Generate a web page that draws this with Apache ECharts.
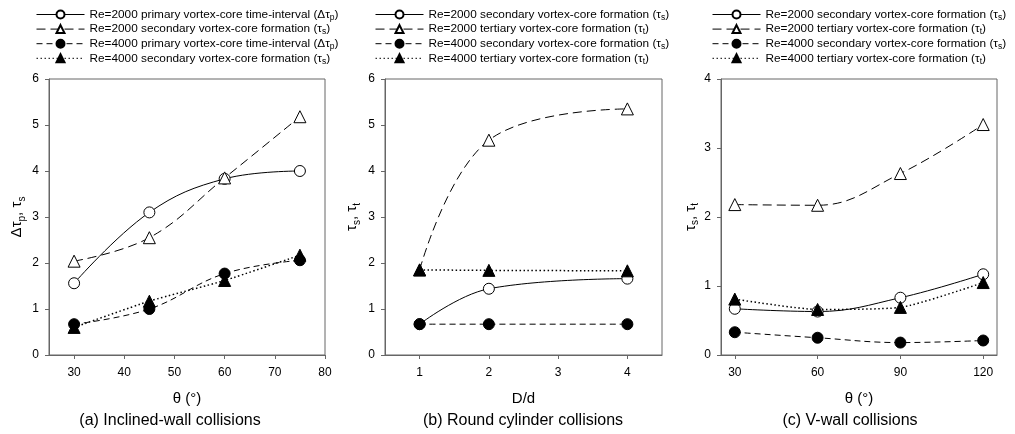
<!DOCTYPE html>
<html>
<head>
<meta charset="utf-8">
<script src="https://cdn.jsdelivr.net/npm/echarts@6/dist/echarts.min.js"></script>
<style>
  html, body { margin: 0; padding: 0; background: #fff; }
  #chart { width: 1015px; height: 434px; }
</style>
</head>
<body>
<div id="chart"></div>
<script>
// (a) inclined wall
var xA = [30, 45, 60, 75];
var aPrim2000 = [1.56, 3.10, 3.83, 4.00];
var aSec2000 = [2.04, 2.55, 3.85, 5.18];
var aPrim4000 = [0.67, 1.00, 1.77, 2.06];
var aSec4000 = [0.60, 1.17, 1.62, 2.17];
// (b) round cylinder
var xB = [1, 2, 4];
var bSec2000 = [0.67, 1.44, 1.66];
var bTer2000 = [1.85, 4.67, 5.35];
var bSec4000 = [0.67, 0.67, 0.67];
var bTer4000 = [1.85, 1.84, 1.83];
// (c) V-wall
var xC = [30, 60, 90, 120];
var cSec2000 = [0.67, 0.63, 0.83, 1.17];
var cTer2000 = [2.18, 2.17, 2.63, 3.34];
var cSec4000 = [0.33, 0.25, 0.18, 0.21];
var cTer4000 = [0.81, 0.66, 0.69, 1.05];

var ticksA = [30, 40, 50, 60, 70, 80];
var ticksB = [1, 2, 3, 4];
var ticksC = [30, 60, 90, 120];

var FONT = '"Liberation Sans", Arial, sans-serif';
var FRAME = '#666';

// legend texts (rich)
var legendText = {
  a1: '{t|Re=2000 primary vortex-core time-interval (Δτ}{s|p}{t|)}',
  a2: '{t|Re=2000 secondary vortex-core formation (τ}{s|s}{t|)}',
  a3: '{t|Re=4000 primary vortex-core time-interval (Δτ}{s|p}{t|)}',
  a4: '{t|Re=4000 secondary vortex-core formation (τ}{s|s}{t|)}',
  b1: '{t|Re=2000 secondary vortex-core formation (τ}{s|s}{t|)}',
  b2: '{t|Re=2000 tertiary vortex-core formation (τ}{s|t}{t|)}',
  b3: '{t|Re=4000 secondary vortex-core formation (τ}{s|s}{t|)}',
  b4: '{t|Re=4000 tertiary vortex-core formation (τ}{s|t}{t|)}',
  c1: '{t|Re=2000 secondary vortex-core formation (τ}{s|s}{t|)}',
  c2: '{t|Re=2000 tertiary vortex-core formation (τ}{s|t}{t|)}',
  c3: '{t|Re=4000 secondary vortex-core formation (τ}{s|s}{t|)}',
  c4: '{t|Re=4000 tertiary vortex-core formation (τ}{s|t}{t|)}'
};

var legendRich = {
  t: { fontSize: 11.8, fontFamily: FONT, color: '#000', lineHeight: 12 },
  s: { fontSize: 8.5, fontFamily: FONT, color: '#000', lineHeight: 6, padding: [6, 0, 0, 0] }
};

var nameRich = {
  a: { fontSize: 15, fontFamily: FONT, color: '#000', lineHeight: 20 },
  s: { fontSize: 10, fontFamily: FONT, color: '#000', lineHeight: 20, verticalAlign: 'bottom', padding: [6, 0, 0, 0] }
};

function mkLegend(ids, left) {
  return {
    orient: 'vertical', left: left, top: 7, padding: 0,
    data: ids, itemWidth: 48, itemHeight: 10, itemGap: -0.4,
    selectedMode: false,
    lineStyle: { width: 1 },
    formatter: function (n) { return legendText[n]; },
    textStyle: { rich: legendRich }
  };
}

function xAx(idx, min, max, ticks, name) {
  return {
    type: 'value', gridIndex: idx, min: min, max: max,
    name: name, nameLocation: 'middle', nameGap: 36,
    nameTextStyle: { fontSize: 15, fontFamily: FONT, color: '#000' },
    axisLine: { lineStyle: { color: FRAME } },
    axisTick: { inside: false, length: 4, lineStyle: { color: FRAME }, customValues: ticks },
    axisLabel: { fontSize: 12, fontFamily: FONT, color: '#000', margin: 12, customValues: ticks },
    splitLine: { show: false }
  };
}

function yAx(idx, max, name, gap) {
  return {
    type: 'value', gridIndex: idx, min: 0, max: max, interval: 1,
    name: name, nameLocation: 'middle', nameGap: gap, nameRotate: 90,
    nameTextStyle: { rich: nameRich },
    axisLine: { lineStyle: { color: FRAME } },
    axisTick: { inside: false, length: 4, lineStyle: { color: FRAME } },
    axisLabel: { fontSize: 12, fontFamily: FONT, color: '#000', margin: 10 },
    splitLine: { show: false }
  };
}

// marker kinds
function mk(id, idx, xs, ys, kind) {
  var open = kind === 'oc' || kind === 'ot';
  var tri = kind === 'ot' || kind === 'ft';
  var dash = { oc: 'solid', ot: [9, 5], fc: [6, 4], ft: [1.5, 2.5] }[kind];
  return {
    name: id, type: 'line', xAxisIndex: idx, yAxisIndex: idx,
    data: xs.map(function (x, i) { return [x, ys[i]]; }),
    smooth: kind === 'ft' ? 0.2 : 0.4,
    symbol: tri ? 'triangle' : 'circle',
    symbolSize: tri ? 12 : 11,
    showAllSymbol: true,
    lineStyle: { color: '#000', width: kind === 'ft' ? 1.5 : 1, type: dash },
    itemStyle: { color: open ? '#fff' : '#000', borderColor: '#000', borderWidth: 1 },
    z: open ? 3 : 4
  };
}

var chart = echarts.init(document.getElementById('chart'));
chart.setOption({
  animation: false,
  backgroundColor: '#fff',
  grid: [
    { left: 49, top: 79, width: 276, height: 276, show: true, borderColor: FRAME, borderWidth: 1 },
    { left: 385, top: 79, width: 277, height: 276, show: true, borderColor: FRAME, borderWidth: 1 },
    { left: 721, top: 79, width: 276, height: 276, show: true, borderColor: FRAME, borderWidth: 1 }
  ],
  legend: [
    mkLegend(['a1', 'a2', 'a3', 'a4'], 36),
    mkLegend(['b1', 'b2', 'b3', 'b4'], 375),
    mkLegend(['c1', 'c2', 'c3', 'c4'], 712)
  ],
  xAxis: [
    xAx(0, 25, 80, ticksA, 'θ (°)'),
    xAx(1, 0.5, 4.5, ticksB, 'D/d'),
    xAx(2, 25, 125, ticksC, 'θ (°)')
  ],
  yAxis: [
    yAx(0, 6, '{a|Δτ}{s|p}{a|, τ}{s|s}', 22),
    yAx(1, 6, '{a|τ}{s|s}{a|, τ}{s|t}', 23),
    yAx(2, 4, '{a|τ}{s|s}{a|, τ}{s|t}', 19)
  ],
  series: [
    mk('a1', 0, xA, aPrim2000, 'oc'),
    mk('a2', 0, xA, aSec2000, 'ot'),
    mk('a3', 0, xA, aPrim4000, 'fc'),
    mk('a4', 0, xA, aSec4000, 'ft'),
    mk('b1', 1, xB, bSec2000, 'oc'),
    mk('b2', 1, xB, bTer2000, 'ot'),
    mk('b3', 1, xB, bSec4000, 'fc'),
    mk('b4', 1, xB, bTer4000, 'ft'),
    mk('c1', 2, xC, cSec2000, 'oc'),
    mk('c2', 2, xC, cTer2000, 'ot'),
    mk('c3', 2, xC, cSec4000, 'fc'),
    mk('c4', 2, xC, cTer4000, 'ft')
  ],
  graphic: [
    { type: 'text', x: 170, y: 421, style: { text: '(a) Inclined-wall collisions', font: '16px ' + FONT, fill: '#000', textAlign: 'center', textVerticalAlign: 'middle' } },
    { type: 'text', x: 523, y: 421, style: { text: '(b) Round cylinder collisions', font: '16px ' + FONT, fill: '#000', textAlign: 'center', textVerticalAlign: 'middle' } },
    { type: 'text', x: 850, y: 421, style: { text: '(c) V-wall collisions', font: '16px ' + FONT, fill: '#000', textAlign: 'center', textVerticalAlign: 'middle' } }
  ]
});
</script>
</body>
</html>
